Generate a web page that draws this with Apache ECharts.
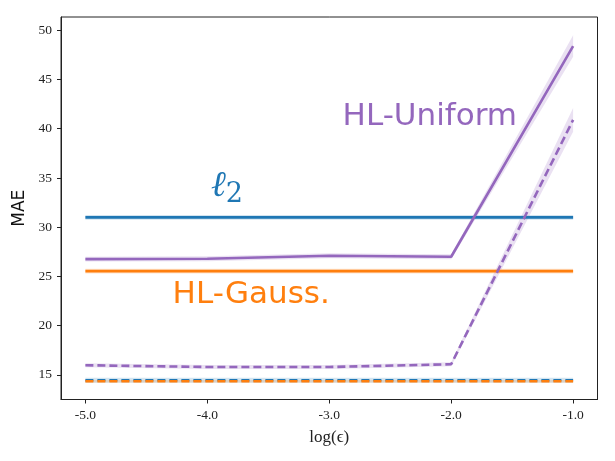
<!DOCTYPE html>
<html>
<head>
<meta charset="utf-8">
<script src="https://cdn.jsdelivr.net/npm/echarts@6/dist/echarts.min.js"></script>
<style>html,body{margin:0;padding:0;background:#fff}#c{width:615px;height:461px}</style>
</head>
<body>
<div id="c"></div>
<script>
const xVals = [-5, -4, -3, -2, -1];
const xTicks = [-5, -4, -3, -2, -1];
const yTicks = [15, 20, 25, 30, 35, 40, 45, 50];

const l2Solid = [31.0, 31.0, 31.0, 31.0, 31.0];
const l2SolidStd = [0.25, 0.25, 0.25, 0.25, 0.25];
const gaussSolid = [25.54, 25.54, 25.54, 25.54, 25.54];
const gaussSolidStd = [0.25, 0.25, 0.25, 0.25, 0.25];
const unifSolid = [26.76, 26.8, 27.1, 27.0, 48.4];
const unifSolidStd = [0.25, 0.25, 0.25, 0.25, 1.1];

const l2Dashed = [14.45, 14.45, 14.45, 14.45, 14.45];
const l2DashedStd = [0.25, 0.25, 0.25, 0.25, 0.25];
const gaussDashed = [14.35, 14.35, 14.35, 14.35, 14.35];
const gaussDashedStd = [0.12, 0.12, 0.12, 0.12, 0.12];
const unifDashed = [15.98, 15.8, 15.8, 16.08, 40.9];
const unifDashedStd = [0.2, 0.2, 0.2, 0.2, 1.2];

const BLUE = '#1f77b4', ORANGE = '#ff7f0e', PURPLE = '#9467bd';

const pairs = (ys) => xVals.map((x, i) => [x, ys[i]]);

function band(mean, std, color, opacity) {
  const rows = xVals.map((x, i) => [x, mean[i] - std[i], mean[i] + std[i]]);
  return {
    type: 'custom', data: rows, z: 1, silent: true,
    renderItem: function (params, api) {
      if (params.dataIndex !== 0) return null;
      const up = [], dn = [];
      for (let i = 0; i < rows.length; i++) {
        up.push(api.coord([rows[i][0], rows[i][2]]));
        dn.push(api.coord([rows[i][0], rows[i][1]]));
      }
      return { type: 'polygon', shape: { points: up.concat(dn.reverse()) },
               style: { fill: color, opacity: opacity } };
    }
  };
}
function line(mean, color, dashed, z) {
  return { type: 'line', data: pairs(mean), symbol: 'none', z: z,
    lineStyle: { color: color, width: 2.6, type: dashed ? [8, 4] : 'solid', cap: 'butt' } };
}

const series = [
  band(l2Solid, l2SolidStd, BLUE, 0.2),
  band(gaussSolid, gaussSolidStd, ORANGE, 0.2),
  band(unifSolid, unifSolidStd, PURPLE, 0.2),
  band(l2Dashed, l2DashedStd, BLUE, 0.2),
  band(gaussDashed, gaussDashedStd, ORANGE, 0.2),
  band(unifDashed, unifDashedStd, PURPLE, 0.2),
  line(l2Solid, BLUE, false, 3), line(gaussSolid, ORANGE, false, 4), line(unifSolid, PURPLE, false, 5),
  line(l2Dashed, BLUE, true, 3), line(gaussDashed, ORANGE, true, 4), line(unifDashed, PURPLE, true, 5)
];

const tickFont = { fontFamily: 'Liberation Serif', fontSize: 13.5, color: '#222' };

const chart = echarts.init(document.getElementById('c'), null, { renderer: 'canvas' });
chart.setOption({
  animation: false,
  grid: { left: 61, right: 17.5, top: 17, bottom: 61.5, show: true, borderColor: '#222', borderWidth: 1, backgroundColor: 'transparent' },
  xAxis: {
    type: 'value', min: -5.2, max: -0.8,
    name: 'log(ϵ)', nameLocation: 'middle', nameGap: 30,
    nameTextStyle: { fontFamily: 'Liberation Serif', fontSize: 17, color: '#222' },
    axisLine: { show: true, onZero: false, lineStyle: { color: '#222', width: 1 } },
    axisTick: { show: true, length: 4, lineStyle: { color: '#222' }, customValues: xTicks },
    axisLabel: Object.assign({ customValues: xTicks, margin: 9, formatter: v => Number(v).toFixed(1) }, tickFont),
    splitLine: { show: false }
  },
  yAxis: {
    type: 'value', min: 12.5, max: 51.35,
    name: 'MAE', nameLocation: 'middle', nameGap: 23, nameRotate: 90,
    nameTextStyle: { fontFamily: 'DejaVu Sans', fontSize: 17, color: '#111' },
    axisLine: { show: true, onZero: false, lineStyle: { color: '#222', width: 1 } },
    axisTick: { show: true, length: 4, lineStyle: { color: '#222' }, customValues: yTicks },
    axisLabel: Object.assign({ customValues: yTicks, margin: 9, formatter: v => String(v) }, tickFont),
    splitLine: { show: false }
  },
  series: series
});

const notes = [
  { pos: [-2.175, 41.2], text: 'HL-Uniform', color: PURPLE },
  { pos: [-3.64, 23.1], text: 'HL-Gauss.', color: ORANGE }
];
const graphics = notes.map(n => {
  const p = chart.convertToPixel({ gridIndex: 0 }, n.pos);
  return { type: 'text', x: p[0], y: p[1], z: 100,
    style: { text: n.text, fill: n.color, font: '31px "DejaVu Sans"', textAlign: 'center', textVerticalAlign: 'middle' } };
});
const lp = chart.convertToPixel({ gridIndex: 0 }, [-3.84, 34.1]);
graphics.push({ type: 'text', x: lp[0], y: lp[1], z: 100,
  style: { rich: { a: { fontFamily: 'DejaVu Serif', fontStyle: 'italic', fontSize: 36, fill: BLUE },
                   b: { fontFamily: 'DejaVu Serif', fontSize: 27, fill: BLUE, padding: [16, 0, 0, 0] } },
           text: '{a|ℓ}{b|2}', textAlign: 'center', textVerticalAlign: 'middle' } });
chart.setOption({ graphic: graphics });
</script>
</body>
</html>
